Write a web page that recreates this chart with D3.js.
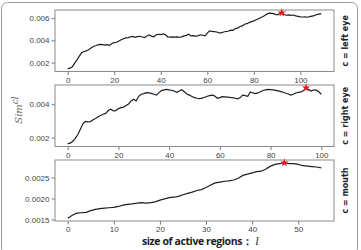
<!DOCTYPE html>
<html>
<head>
<meta charset="utf-8">
<script src="https://cdn.jsdelivr.net/npm/d3@7"></script>
<style>
  body { margin: 0; background: #fff; }
  svg { display: block; font-family: "DejaVu Sans", sans-serif; }
</style>
</head>
<body>
<svg></svg>
<script>
const width = 361, height = 250;

// Sim^cl values per region size, one array per facial part
const leftEye = [0.00145,0.00150,0.00162,0.00195,0.00225,0.00258,0.00288,0.00300,0.00305,0.00315,
  0.00332,0.00345,0.00352,0.00360,0.00363,0.00362,0.00358,0.00362,0.00355,0.00372,
  0.00380,0.00383,0.00395,0.00405,0.00415,0.00422,0.00425,0.00432,0.00436,0.00428,
  0.00434,0.00437,0.00430,0.00425,0.00440,0.00448,0.00438,0.00432,0.00450,0.00455,
  0.00452,0.00458,0.00450,0.00432,0.00430,0.00432,0.00430,0.00432,0.00428,0.00432,
  0.00440,0.00445,0.00455,0.00440,0.00442,0.00438,0.00440,0.00450,0.00446,0.00440,
  0.00465,0.00485,0.00480,0.00478,0.00475,0.00470,0.00468,0.00475,0.00480,0.00482,
  0.00492,0.00490,0.00505,0.00510,0.00525,0.00530,0.00545,0.00550,0.00560,0.00568,
  0.00575,0.00585,0.00595,0.00605,0.00615,0.00628,0.00640,0.00645,0.00642,0.00636,
  0.00630,0.00640,0.00648,0.00632,0.00626,0.00630,0.00625,0.00628,0.00620,0.00616,
  0.00612,0.00610,0.00612,0.00608,0.00614,0.00618,0.00622,0.00632,0.00636,0.00640];

const rightEye = [0.00163,0.00166,0.00178,0.00195,0.00218,0.00250,0.00283,0.00297,0.00294,0.00296,
  0.00307,0.00315,0.00325,0.00333,0.00340,0.00345,0.00362,0.00370,0.00360,0.00362,
  0.00374,0.00380,0.00383,0.00392,0.00402,0.00420,0.00430,0.00420,0.00448,0.00460,
  0.00464,0.00470,0.00468,0.00465,0.00460,0.00455,0.00470,0.00482,0.00486,0.00489,
  0.00487,0.00483,0.00480,0.00472,0.00480,0.00487,0.00475,0.00462,0.00455,0.00447,
  0.00440,0.00436,0.00434,0.00437,0.00442,0.00448,0.00452,0.00455,0.00450,0.00436,
  0.00440,0.00446,0.00445,0.00443,0.00441,0.00440,0.00436,0.00432,0.00440,0.00455,
  0.00452,0.00448,0.00474,0.00468,0.00464,0.00468,0.00475,0.00483,0.00486,0.00489,
  0.00488,0.00486,0.00483,0.00480,0.00476,0.00472,0.00466,0.00462,0.00455,0.00460,
  0.00468,0.00472,0.00474,0.00482,0.00499,0.00488,0.00480,0.00487,0.00485,0.00475,
  0.00460];

const mouth = [0.00153,0.00160,0.00165,0.00166,0.00167,0.00171,0.00174,0.00176,0.00177,0.00178,
  0.00179,0.00181,0.00184,0.00186,0.00187,0.00189,0.00190,0.00189,0.00190,0.00192,
  0.00196,0.00199,0.00202,0.00203,0.00205,0.00209,0.00212,0.00215,0.00219,0.00221,
  0.00226,0.00232,0.00237,0.00239,0.00241,0.00242,0.00244,0.00248,0.00255,0.00258,
  0.00261,0.00264,0.00265,0.00270,0.00277,0.00281,0.00283,0.00285,0.00283,0.00283,
  0.00281,0.00278,0.00277,0.00276,0.00275,0.00273];

const panelLabels = ["c = left eye", "c = right eye", "c = mouth"];
const xTicks = [[0, 20, 40, 60, 80, 100], [0, 20, 40, 60, 80, 100], [0, 10, 20, 30, 40, 50]];
const yTicks = [[0.002, 0.004, 0.006], [0.002, 0.004], [0.0015, 0.0020, 0.0025]];
const yFormats = [".3f", ".3f", ".4f"];

const svg = d3.select("svg").attr("width", width).attr("height", height);

// outer frame
svg.append("rect")
  .attr("x", 1.5).attr("y", 2.5)
  .attr("width", 356).attr("height", 252)
  .attr("rx", 6)
  .attr("fill", "none")
  .attr("stroke", "#9a9a9a")
  .attr("stroke-width", 1);

const left = 55, right = 334;
const panels = [
  { data: leftEye, top: 10, bottom: 71.5 },
  { data: rightEye, top: 85, bottom: 146.5 },
  { data: mouth, top: 160, bottom: 221 }
];

// matplotlib-style 5% padding on both axes
function padded(ext) {
  const m = (ext[1] - ext[0]) * 0.05;
  return [ext[0] - m, ext[1] + m];
}

panels.forEach((p, k) => {
  const n = p.data.length - 1;
  const x = d3.scaleLinear().domain(padded([0, n])).range([left, right]);
  const y = d3.scaleLinear().domain(padded(d3.extent(p.data))).range([p.bottom, p.top]);

  const g = svg.append("g");

  const xAxis = g.append("g")
    .attr("transform", `translate(0,${p.bottom})`)
    .call(d3.axisBottom(x).tickValues(xTicks[k]).tickSize(3.5).tickPadding(2).tickSizeOuter(0));
  const yAxis = g.append("g")
    .attr("transform", `translate(${left},0)`)
    .call(d3.axisLeft(y).tickValues(yTicks[k]).tickFormat(d3.format(yFormats[k])).tickSize(3.5).tickPadding(2).tickSizeOuter(0));

  [xAxis, yAxis].forEach(a => {
    a.select(".domain").remove();
    a.selectAll("line").attr("stroke", "#555").attr("stroke-width", 0.8);
    a.selectAll("text").attr("fill", "#444").attr("font-size", "8px");
  });

  // box
  g.append("rect")
    .attr("x", left).attr("y", p.top)
    .attr("width", right - left).attr("height", p.bottom - p.top)
    .attr("fill", "none")
    .attr("stroke", "#8a8a8a")
    .attr("stroke-width", 1);

  const line = d3.line()
    .x((d, i) => x(i))
    .y(d => y(d));

  g.append("path")
    .datum(p.data)
    .attr("d", line)
    .attr("fill", "none")
    .attr("stroke", "#1e1e1e")
    .attr("stroke-width", 1.2);

  // red star at the maximum
  const best = d3.maxIndex(p.data);
  g.append("path")
    .attr("d", d3.symbol(d3.symbolStar, 22)())
    .attr("transform", `translate(${x(best)},${y(p.data[best])})`)
    .attr("fill", "#e8141e");

  g.append("text")
    .attr("transform", `translate(348,${(p.top + p.bottom) / 2}) rotate(-90)`)
    .attr("text-anchor", "middle")
    .attr("font-size", "8px")
    .attr("font-weight", "bold")
    .attr("fill", "#222")
    .text(panelLabels[k]);
});

// y label Sim^cl
const yl = svg.append("text")
  .attr("transform", "translate(22,110) rotate(-90)")
  .attr("text-anchor", "middle")
  .attr("font-family", "'DejaVu Serif', serif")
  .attr("font-style", "italic")
  .attr("font-size", "10px")
  .attr("fill", "#666");
yl.append("tspan").text("Sim");
yl.append("tspan").attr("dy", -4).attr("font-size", "9px").text("cl");

// x label
const xl = svg.append("text")
  .attr("x", 142).attr("y", 245)
  .attr("font-family", "'Open Sans', sans-serif")
  .attr("font-size", "10.5px")
  .attr("fill", "#222");
xl.append("tspan").attr("font-weight", "bold").attr("textLength", 111).text("size of active regions：");
xl.append("tspan").attr("dx", 3).attr("font-style", "italic").attr("font-family", "'DejaVu Serif', serif").text("l");
</script>
</body>
</html>
